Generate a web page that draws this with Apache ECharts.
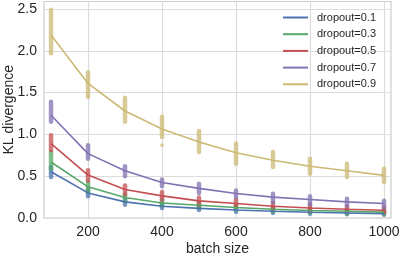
<!DOCTYPE html>
<html><head><meta charset="utf-8">
<script src="https://cdn.jsdelivr.net/npm/echarts@6/dist/echarts.min.js"></script>
<style>html,body{margin:0;padding:0;background:#fff}#c{width:399px;height:253px}</style>
</head><body><div id="c"></div>
<script>
const batchSizes = [100, 200, 300, 400, 500, 600, 700, 800, 900, 1000];
const xTicks = [200, 400, 600, 800, 1000];
const yTicks = [0, 0.5, 1.0, 1.5, 2.0, 2.5];
const seriesNames = ['dropout=0.1', 'dropout=0.3', 'dropout=0.5', 'dropout=0.7', 'dropout=0.9'];
const colors = ['#4C72B0', '#55A868', '#C44E52', '#8172B2', '#CCB974'];

const mean01 = [0.553, 0.30, 0.193, 0.141, 0.115, 0.095, 0.08, 0.068, 0.06, 0.052];
const lo01   = [0.49, 0.26, 0.16, 0.12, 0.095, 0.075, 0.06, 0.05, 0.045, 0.04];
const hi01   = [0.61, 0.34, 0.22, 0.17, 0.14, 0.115, 0.10, 0.085, 0.075, 0.065];

const mean03 = [0.67, 0.373, 0.245, 0.18, 0.153, 0.126, 0.105, 0.09, 0.08, 0.07];
const lo03   = [0.59, 0.31, 0.20, 0.15, 0.12, 0.10, 0.08, 0.065, 0.055, 0.05];
const hi03   = [0.79, 0.43, 0.28, 0.22, 0.18, 0.15, 0.13, 0.11, 0.10, 0.09];

const mean05 = [0.89, 0.513, 0.34, 0.265, 0.205, 0.174, 0.14, 0.12, 0.105, 0.093];
const lo05   = [0.81, 0.45, 0.28, 0.22, 0.16, 0.14, 0.11, 0.09, 0.08, 0.07];
const hi05   = [0.99, 0.57, 0.39, 0.31, 0.245, 0.22, 0.18, 0.16, 0.14, 0.125];

const mean07 = [1.23, 0.77, 0.565, 0.425, 0.354, 0.294, 0.25, 0.222, 0.193, 0.174];
const lo07   = [1.15, 0.71, 0.50, 0.38, 0.30, 0.25, 0.19, 0.165, 0.15, 0.13];
const hi07   = [1.39, 0.87, 0.62, 0.46, 0.41, 0.33, 0.29, 0.26, 0.23, 0.205];

const mean09 = [2.19, 1.61, 1.28, 1.065, 0.91, 0.78, 0.69, 0.62, 0.565, 0.51];
const lo09   = [1.97, 1.45, 1.15, 0.97, 0.79, 0.65, 0.61, 0.53, 0.49, 0.43];
const hi09   = [2.49, 1.74, 1.44, 1.21, 1.04, 0.89, 0.79, 0.71, 0.65, 0.59];

const outliers09 = [[400, 0.87]];

const means = [mean01, mean03, mean05, mean07, mean09];
const lows = [lo01, lo03, lo05, lo07, lo09];
const highs = [hi01, hi03, hi05, hi07, hi09];

const FONT = "'Liberation Sans', Arial, sans-serif";
const series = [];
seriesNames.forEach((name, i) => {
  series.push({
    name: name + ' strip',
    type: 'custom',
    silent: true,
    z: 2,
    data: batchSizes.map((b, j) => [b, lows[i][j], highs[i][j]]),
    renderItem: function (params, api) {
      const top = api.coord([api.value(0), api.value(2)]);
      const bot = api.coord([api.value(0), api.value(1)]);
      const w = 4.5;
      return {
        type: 'rect',
        shape: { x: top[0] - w / 2, y: top[1] - w / 2, width: w, height: bot[1] - top[1] + w, r: w / 2 },
        style: { fill: colors[i], opacity: 0.75 }
      };
    }
  });
  series.push({
    name: name,
    type: 'line',
    z: 3,
    data: batchSizes.map((b, j) => [b, means[i][j]]),
    showSymbol: false,
    symbol: 'none',
    lineStyle: { color: colors[i], width: 1.6 },
    itemStyle: { color: colors[i] }
  });
});
series.push({
  name: 'outliers',
  type: 'scatter',
  data: outliers09,
  symbolSize: 4,
  itemStyle: { color: colors[4], opacity: 0.6 },
  silent: true
});

const chart = echarts.init(document.getElementById('c'), null, { renderer: 'canvas' });
chart.setOption({
  animation: false,
  backgroundColor: '#fff',
  color: colors,
  grid: { left: 44, right: 8, top: 1.5, bottom: 35, outerBoundsMode: 'none', containLabel: false, show: true, borderColor: '#cccccc', borderWidth: 1.2, backgroundColor: 'transparent' },
  legend: {
    data: seriesNames.map(n => ({ name: n, icon: 'rect' })),
    orient: 'vertical',
    right: 18,
    top: 6,
    itemWidth: 25,
    itemHeight: 2,
    itemGap: 3.7,
    textStyle: { fontFamily: FONT, fontSize: 11, color: '#262626', lineHeight: 13, padding: [0, 0, 0, 4] }
  },
  xAxis: {
    type: 'value',
    min: 81, max: 1019,
    name: 'batch size',
    nameLocation: 'middle',
    nameGap: 24,
    nameMoveOverlap: false,
    nameTextStyle: { fontFamily: FONT, fontSize: 14, color: '#262626' },
    axisLine: { show: false },
    axisTick: { show: false, customValues: xTicks },
    axisLabel: { customValues: xTicks, fontFamily: FONT, fontSize: 14, color: '#262626', margin: 7, formatter: v => String(v) },
    splitLine: { show: true, lineStyle: { color: '#dcdcdc', width: 1.2 } }
  },
  yAxis: {
    type: 'value',
    min: 0, max: 2.59,
    name: 'KL divergence',
    nameLocation: 'middle',
    nameGap: 28,
    nameMoveOverlap: false,
    nameTextStyle: { fontFamily: FONT, fontSize: 14, color: '#262626' },
    axisLine: { show: false },
    axisTick: { show: false, customValues: yTicks },
    axisLabel: { customValues: yTicks, fontFamily: FONT, fontSize: 14, color: '#262626', margin: 7, formatter: v => v.toFixed(1) },
    splitLine: { show: true, lineStyle: { color: '#dcdcdc', width: 1.2 } }
  },
  series: series
});
</script></body></html>
